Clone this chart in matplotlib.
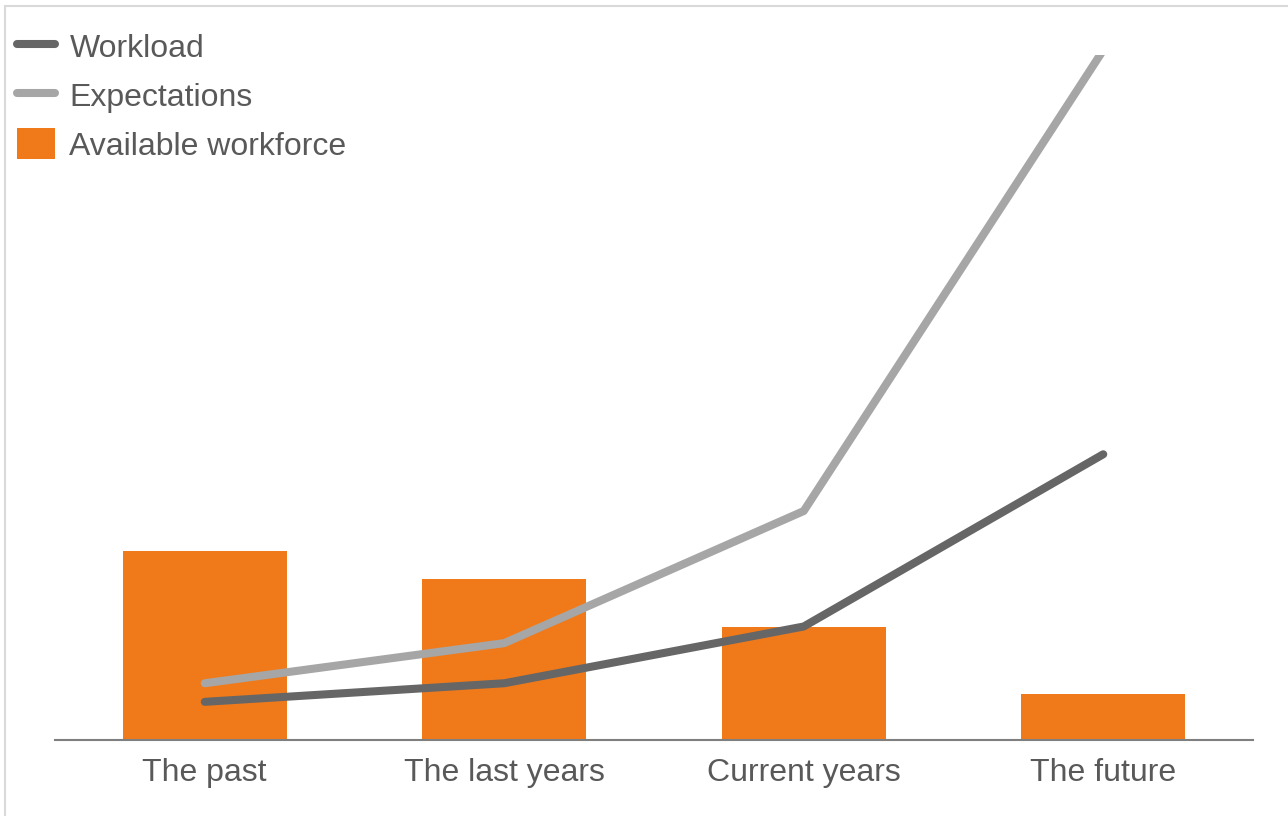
import matplotlib.pyplot as plt
from matplotlib.patches import Rectangle

categories = ["The past", "The last years", "Current years", "The future"]
workforce = [1.93, 1.65, 1.15, 0.47]
workload = [0.39, 0.58, 1.16, 2.92]
expectations = [0.58, 0.99, 2.34, 7.05]

plt.rcParams["font.family"] = ["Liberation Sans", "DejaVu Sans"]
text_color = "#595959"

fig = plt.figure(figsize=(12.88, 8.16), dpi=100)
ax = fig.add_axes([55 / 1288, 76 / 816, 1198 / 1288, 685 / 816])

x = range(len(categories))
ax.bar(x, workforce, width=0.547, color="#F07A1A", label="Available workforce", zorder=2)
ax.plot(x, workload, color="#666666", lw=5.8, solid_capstyle="round", label="Workload", zorder=3)
ax.plot(x, expectations, color="#A6A6A6", lw=5.8, solid_capstyle="round", label="Expectations", zorder=3)

ax.set_xlim(-0.5, 3.5)
ax.set_ylim(0, 7.0)
ax.set_xticks(list(x))
ax.set_xticklabels(categories, fontsize=23, color=text_color)
ax.tick_params(axis="x", length=0, pad=13)
ax.set_yticks([])
for side in ["left", "right", "top"]:
    ax.spines[side].set_visible(False)
ax.spines["bottom"].set_color("#7f7f7f")
ax.spines["bottom"].set_linewidth(1.5)

handles, labels = ax.get_legend_handles_labels()
leg = fig.legend(handles, labels,
                 loc="upper left", bbox_to_anchor=(4 / 1288, 1 - 18 / 816),
                 frameon=False, fontsize=23, handlelength=1.2, handleheight=1.1,
                 handletextpad=0.45, labelspacing=0.49, borderaxespad=0)
for t in leg.get_texts():
    t.set_color(text_color)

fig.add_artist(Rectangle((5 / 1288, -0.05), 1.2, 1 - 6 / 816 + 0.05,
                         transform=fig.transFigure, fill=False,
                         edgecolor="#d9d9d9", lw=1.5))

fig.savefig("out.png", dpi=100)
